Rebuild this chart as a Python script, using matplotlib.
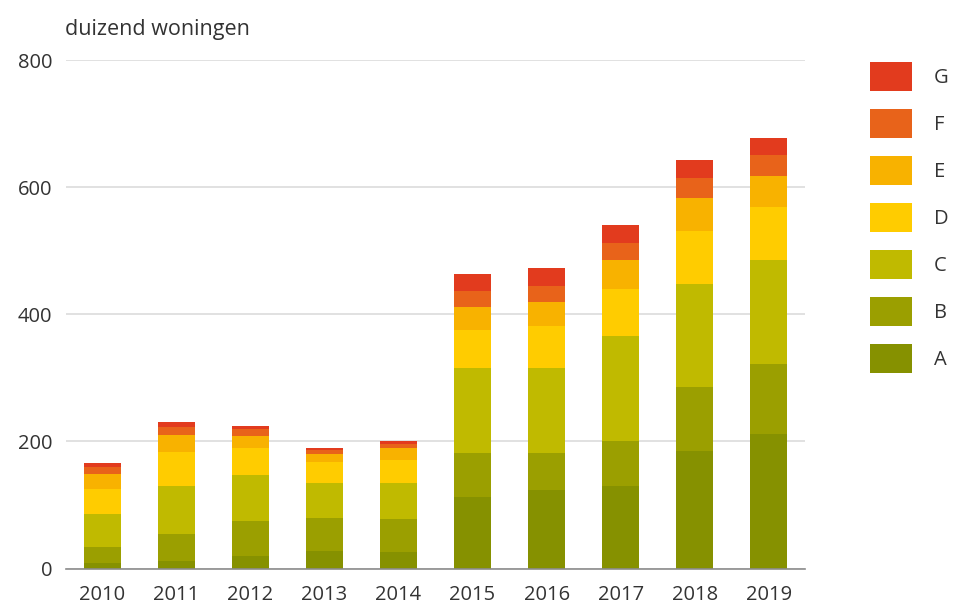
import matplotlib
matplotlib.use("Agg")
import matplotlib.pyplot as plt
import numpy as np

plt.rcParams['font.family'] = ['Open Sans', 'DejaVu Sans']

years = ['2010', '2011', '2012', '2013', '2014', '2015', '2016', '2017', '2018', '2019']
labels = ['A', 'B', 'C', 'D', 'E', 'F', 'G']
A = [9, 12, 19, 28, 26, 113, 123, 130, 185, 212]
B = [25, 43, 55, 51, 52, 69, 58, 70, 100, 109]
C = [52, 75, 73, 55, 56, 133, 135, 166, 163, 165]
D = [39, 54, 43, 33, 36, 60, 65, 74, 83, 82]
E = [23, 26, 19, 13, 19, 36, 38, 45, 52, 50]
F = [12, 13, 10, 7, 7, 26, 25, 27, 31, 32]
G = [6, 7, 5, 3, 5, 27, 28, 28, 29, 28]
series = [A, B, C, D, E, F, G]
colors = ['#869100', '#9b9f00', '#c0ba00', '#ffcc00', '#f8b200', '#e8631a', '#e23b1e']
yticks = [0, 200, 400, 600, 800]

fig = plt.figure(figsize=(9.55, 6.06), dpi=100)
ax = fig.add_axes([66/955, 1-568.5/606, (805-66)/955, (568.5-60)/606])

x = np.arange(len(years))
bottom = np.zeros(len(years))
handles = []
for vals, col, lab in zip(series, colors, labels):
    b = ax.bar(x, vals, bottom=bottom, width=0.5, color=col, label=lab, zorder=3)
    handles.append(b)
    bottom += np.array(vals)

ax.set_xlim(-0.49, 9.49)
ax.set_ylim(0, 800)
ax.set_yticks(yticks)
ax.set_yticklabels([str(t) for t in yticks])
ax.set_xticks(x)
ax.set_xticklabels(years)
for s in ['top', 'right', 'left']:
    ax.spines[s].set_visible(False)
ax.spines['bottom'].set_color('#8c8c8c')
ax.spines['bottom'].set_linewidth(1.2)
ax.spines['bottom'].set_zorder(4)
ax.grid(axis='y', color='#dcdcdc', linewidth=1.2, zorder=0)
ax.tick_params(axis='both', length=0, labelsize=14.5, colors='#333333')
ax.tick_params(axis='y', pad=10)
ax.tick_params(axis='x', pad=12)

fig.text(65/955, 1-29/606, 'duizend woningen', fontsize=15.5, color='#333333', va='center', ha='left')

fs = 14.5
fspx = fs * 100 / 72
leg = fig.legend(handles[::-1], labels[::-1], loc='upper left',
                 bbox_to_anchor=(870/955, 1-62/606), frameon=False,
                 fontsize=fs, handlelength=42/fspx, handleheight=30/fspx + 0.35,
                 labelspacing=(48-30)/fspx, handletextpad=22/fspx,
                 borderpad=0, borderaxespad=0)
for t in leg.get_texts():
    t.set_color('#333333')

fig.savefig('out.png', dpi=100)
